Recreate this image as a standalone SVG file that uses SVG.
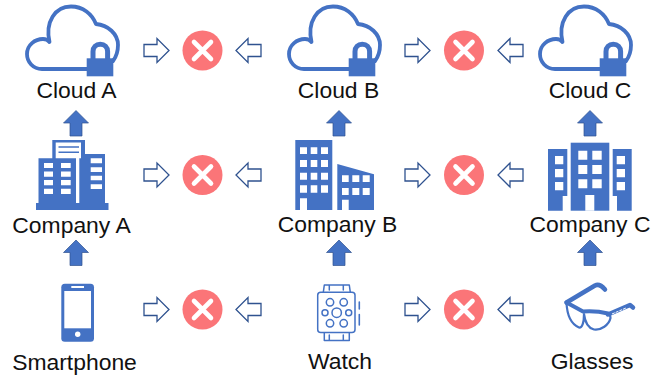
<svg xmlns="http://www.w3.org/2000/svg" width="658" height="377" viewBox="0 0 658 377">
<style>
text{font-family:"Liberation Sans",Arial,sans-serif;font-size:22.9px;fill:#111;text-anchor:middle}
.b{fill:#4472C4}
.w{fill:#fff}
.ln{fill:none;stroke:#4472C4;stroke-linecap:round;stroke-linejoin:round}
.h{fill:#fff;stroke:#2F528F;stroke-width:1.3}
.x{stroke:#fff;stroke-width:4.6;stroke-linecap:round;fill:none}
</style>
<defs>
<g id="cloud">
<path class="ln" stroke-width="3.8" d="M87,69H42C33,69 27,62 27,54C27,45 35,39 43,39C46,39 48,40 49.500,42C45,22 55,6.500 71,6.500C83,6.500 92,14 96,24C108,25 118,34 118,45C118,51 116,57 113,61"/>
<path class="ln" stroke-width="5" d="M93,60V51.500C93,47 96,44.200 100.300,44.200C104.600,44.200 107.600,47 107.600,51.500V60"/>
<rect class="b" x="86.700" y="58.300" width="26.600" height="18"/>
</g>
<g id="no">
<circle r="20" fill="#FB7578"/>
<path class="x" d="M-8.500,-8.500L8.500,8.500M8.500,-8.500L-8.500,8.500"/>
</g>
<path id="ra" class="h" d="M0,-6H13V-12L25,0L13,12V6H0Z"/>
<path id="la" class="h" d="M25,-6H12V-12L0,0L12,12V6H25Z"/>
<path id="ua" fill="#4472C4" stroke="#2F528F" stroke-width="0.700" d="M0,0L12.500,12.500H6V25.500H-6V12.500H-12.500Z"/>
</defs>

<g id="connectors">
<use href="#ua" x="76" y="110.500"/><use href="#ua" x="339" y="110.500"/><use href="#ua" x="590" y="110.500"/>
<use href="#ua" x="76" y="240"/><use href="#ua" x="339" y="240"/><use href="#ua" x="590" y="240"/>
<use href="#ra" x="144" y="50.500"/><use href="#la" x="236" y="50.500"/><use href="#ra" x="405" y="50.500"/><use href="#la" x="498" y="50.500"/>
<use href="#ra" x="144" y="175"/><use href="#la" x="236" y="175"/><use href="#ra" x="405" y="175"/><use href="#la" x="498" y="175"/>
<use href="#ra" x="144" y="309.500"/><use href="#la" x="236" y="309.500"/><use href="#ra" x="405" y="309.500"/><use href="#la" x="498" y="309.500"/>
</g>

<g id="blocked">
<use href="#no" x="202.500" y="50.500"/><use href="#no" x="464" y="50.500"/>
<use href="#no" x="202.500" y="175"/><use href="#no" x="464" y="175"/>
<use href="#no" x="202.500" y="309.500"/><use href="#no" x="464" y="309.500"/>
</g>

<g id="cloud-a"><use href="#cloud"/><text x="76.500" y="98">Cloud A</text></g>
<g id="cloud-b"><use href="#cloud" x="262"/><text x="338.500" y="98">Cloud B</text></g>
<g id="cloud-c"><use href="#cloud" x="513"/><text x="590" y="98">Cloud C</text></g>

<g id="company-a">
<path class="b" d="M36,203H38.500V158.300H52.300V140H85V154H105V203H108.500V210H36Z"/>
<path class="w" d="M55.700,142.500H81V158.300H79.300V203H76V158.300H55.700Z"/>
<path d="M58.500,147H79M58.500,152.300H79" stroke="#4472C4" stroke-width="1.500" fill="none"/>
<path class="w" d="M44,163H53V168H44ZM61,163H70.700V168H61ZM44,171.500H53V176.700H44ZM61,171.500H70.700V176.700H61ZM44,180H53V185.300H44ZM61,180H70.700V185.300H61ZM44,188.700H53V194H44ZM61,188.700H70.700V194H61ZM90.700,158.300H102V163.300H90.700ZM90.700,167.300H102V172H90.700ZM90.700,175.700H102V180.300H90.700ZM90.700,184.300H102V189H90.700Z"/>
<text x="71.500" y="232.700">Company A</text>
</g>

<g id="company-b">
<rect class="b" x="295.300" y="140" width="37" height="70"/>
<path class="b" d="M337.300,164L374,174.300V210H337.300Z"/>
<path class="w" d="M300,147.300H307V154H300ZM310.700,147.300H317.300V154H310.700ZM321,147.300H328V154H321ZM300,160H307V167H300ZM310.700,160H317.300V167H310.700ZM321,160H328V167H321ZM300,172.700H307V179.700H300ZM310.700,172.700H317.300V179.700H310.700ZM321,172.700H328V179.700H321ZM300,185.300H307V192.700H300ZM310.700,185.300H317.300V192.700H310.700ZM321,185.300H328V192.700H321ZM300,198.300H307V210H300ZM342,175.300H348.700V182H342ZM352.300,175.300H359.300V182H352.300ZM362.700,175.300H369.700V182H362.700ZM342,188H348.700V195H342ZM352.300,188H359.300V195H352.300ZM362.700,188H369.700V195H362.700ZM342,199.700H348.700V210H342Z"/>
<text x="337.500" y="231.700">Company B</text>
</g>

<g id="company-c">
<path class="b" d="M548,149H567.300V196H562.700V210.700H548Z"/>
<rect class="b" x="570.700" y="142.700" width="38.600" height="68"/>
<path class="b" d="M612.700,149H631.700V210.700H617V196H612.700Z"/>
<path class="w" d="M555,156H563.300V164.300H555ZM555,169H563.300V177.300H555ZM555,182H563.300V190.300H555ZM578.300,150.700H587.300V159.700H578.300ZM592.300,150.700H601.700V159.700H592.300ZM578.300,165H587.300V174H578.300ZM592.300,165H601.700V174H592.300ZM578.300,179.300H587.300V188.300H578.300ZM592.300,179.300H601.700V188.300H592.300ZM585.300,195H594.300V210.700H585.300ZM616.700,156H625V164.300H616.700ZM616.700,169H625V177.300H616.700ZM616.700,182H625V190.300H616.700Z"/>
<text x="590" y="232">Company C</text>
</g>

<g id="smartphone">
<rect class="b" x="61.300" y="283.700" width="32.700" height="58" rx="3.500"/>
<rect class="w" x="64.300" y="291" width="26.700" height="37.300"/>
<rect class="w" x="71.300" y="286" width="12.700" height="2"/>
<circle class="w" cx="77.700" cy="334.300" r="2.700"/>
<text x="74.500" y="370">Smartphone</text>
</g>

<g id="watch">
<g class="ln" stroke-width="1.500">
<rect x="317.700" y="292.300" width="37.300" height="40.300" rx="3"/>
<path d="M323.300,292.300L324.300,285H349.300L350.300,292.300M329.300,285V290M343.300,285V290M324.300,332.700V340.500H349.300V332.700M329.300,335V340.500M343.300,335V340.500"/>
<path stroke-width="1.600" d="M359.300,302V309M359.300,314.500V325"/>
<circle cx="336.700" cy="312.700" r="4.700"/>
<circle cx="330" cy="302.300" r="3.700"/><circle cx="343.700" cy="302.300" r="3.700"/>
<circle cx="325" cy="312.700" r="3"/><circle cx="348.700" cy="312.700" r="3"/>
<circle cx="330" cy="323.300" r="3.700"/><circle cx="343.700" cy="323.300" r="3.700"/>
</g>
<text x="340" y="369">Watch</text>
</g>

<g id="glasses">
<path class="ln" stroke-width="4.500" d="M566.500,302.500L595,285.500C598,284 602,286 605,289.500"/>
<path class="ln" stroke-width="4" d="M566.500,302.500L583,311.500C590,311 602,312 608,313.500"/>
<path class="ln" stroke-width="2.200" d="M566.500,302.500C567,315 571,324 579,327.500C582,328 584,323 584,314C585,322 588,328 594,329.500C601,330.500 609,325 610.500,318C610.500,316 610,314.500 608,313.500"/>
<path class="ln" stroke-width="4.500" d="M608,314.500L630,305L633,307.500"/>
<path d="M612,314L626,308" stroke="#fff" stroke-width="1" stroke-dasharray="3 1" fill="none"/>
<text x="592" y="369">Glasses</text>
</g>
</svg>
